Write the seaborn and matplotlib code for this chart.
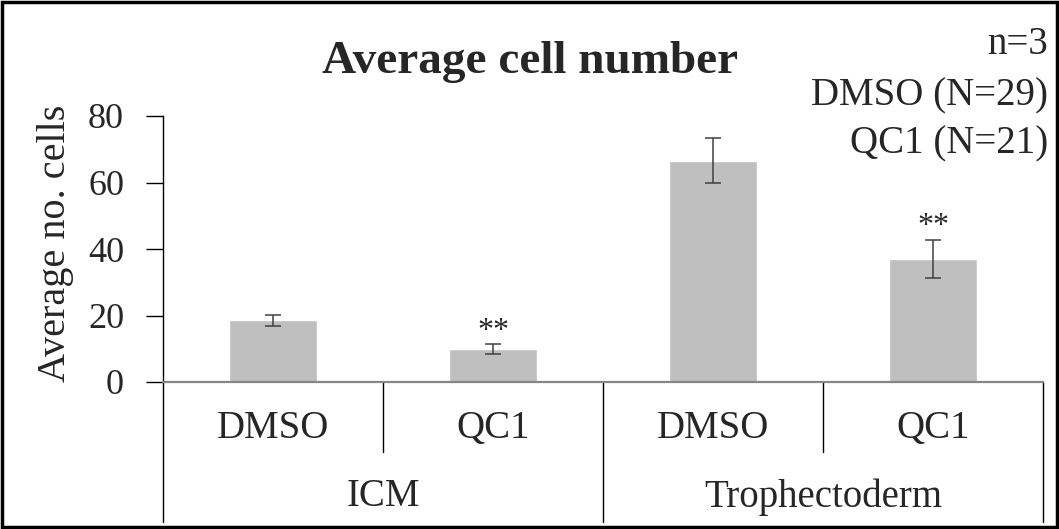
import matplotlib
matplotlib.use("Agg")
import matplotlib.pyplot as plt
import matplotlib.transforms as mtransforms
from matplotlib.patches import Rectangle
import seaborn as sns
import pandas as pd

# Data
groups = ["ICM", "ICM", "Trophectoderm", "Trophectoderm"]
treatments = ["DMSO", "QC1", "DMSO", "QC1"]
mean_cells = [18.6, 9.8, 66.6, 37.0]
sem_cells = [1.7, 1.5, 6.9, 5.8]
significance = ["", "**", "", "**"]
group_names = ["ICM", "Trophectoderm"]
y_ticks = [0, 20, 40, 60, 80]
annotation_lines = ["n=3", "DMSO (N=29)", "QC1 (N=21)"]

sns.set_style("white")
plt.rcParams["font.family"] = ["Liberation Serif", "DejaVu Serif"]

df = pd.DataFrame({
    "key": [f"{g}|{t}" for g, t in zip(groups, treatments)],
    "mean": mean_cells,
})

fig = plt.figure(figsize=(10.59, 5.29), dpi=100)
ax = fig.add_axes([163 / 1059, 1 - 382 / 529, 880 / 1059, 266 / 529])

sns.barplot(data=df, x="key", y="mean", color="#BFBFBF", width=0.4,
            errorbar=None, saturation=1, ax=ax)
xs = list(range(len(mean_cells)))
ax.errorbar(xs, mean_cells, yerr=sem_cells, fmt="none", ecolor="#404040",
            elinewidth=1.1, capsize=6, capthick=1.1)

ax.set_xlim(-0.5, 3.5)
ax.set_ylim(0, 80)
ax.set_yticks(y_ticks)
ax.set_yticklabels([str(v) for v in y_ticks], fontsize=26)
ax.tick_params(axis="y", direction="out", length=12, width=1, pad=16,
               color="#000000", left=True)
ax.set_xticks([])
ax.set_xlabel("")
ax.set_ylabel("")

for side in ("top", "right"):
    ax.spines[side].set_visible(False)
ax.spines["left"].set_color("#000000")
ax.spines["left"].set_linewidth(1)
ax.spines["bottom"].set_color("#868686")
ax.spines["bottom"].set_linewidth(1.6)

# significance stars above the error bars
for x, m, e, s in zip(xs, mean_cells, sem_cells, significance):
    if s:
        ax.text(x, m + e + 4.0, s, ha="center", va="center", fontsize=23)

# two-level category axis drawn below the plot
trans = mtransforms.blended_transform_factory(ax.transData, ax.transAxes)
for x in (0.5, 2.5):
    ax.plot([x, x], [0, -0.263], transform=trans, color="#000000", lw=1,
            clip_on=False)
for x in (-0.5, 1.5, 3.5):
    ax.plot([x, x], [0, -0.526], transform=trans, color="#000000", lw=1,
            clip_on=False)
for x, t in zip(xs, treatments):
    ax.text(x, -0.173, t, transform=trans, ha="center", va="center",
            fontsize=28)
for i, g in enumerate(group_names):
    ax.text(2 * i + 0.5, -0.432, g, transform=trans, ha="center",
            va="center", fontsize=28)

fig.text(55 / 1059, 1 - 243 / 529, "Average no. cells", rotation=90,
         ha="center", va="center", fontsize=29)
fig.text(530 / 1059, 1 - 62 / 529, "Average cell number", ha="center",
         va="center", fontsize=34, fontweight="bold")
for yy, line in zip((45, 96, 144), annotation_lines):
    fig.text(1048 / 1059, 1 - yy / 529, line, ha="right", va="center",
             fontsize=28)

# outer frame
fig.patches.append(Rectangle((2 / 1059, 2 / 529), 1 - 4 / 1059, 1 - 4 / 529,
                             transform=fig.transFigure, fill=False,
                             edgecolor="#000000", linewidth=2.5))

fig.savefig("out.png", dpi=100)
